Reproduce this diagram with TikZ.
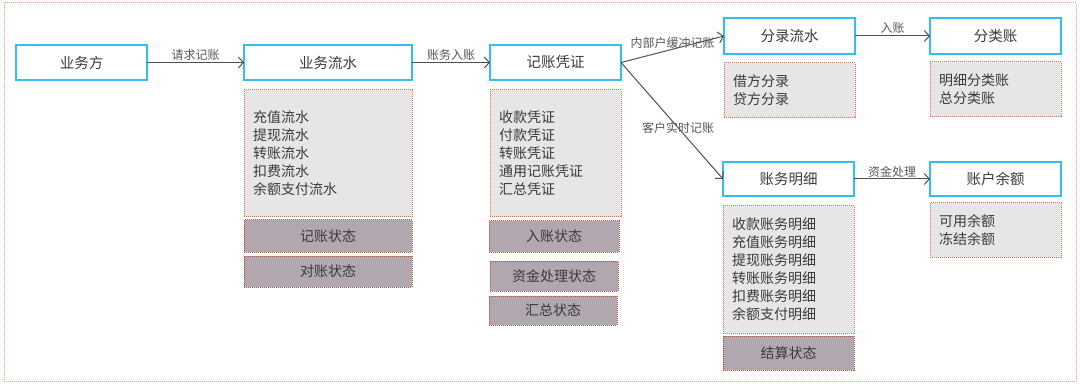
\documentclass[tikz,border=0pt]{standalone}
\usepackage{fontspec}
\setmainfont{Noto Sans CJK SC}
\usetikzlibrary{arrows.meta}
\definecolor{bluec}{HTML}{33BDF2}
\definecolor{grayf}{HTML}{E6E6E6}
\definecolor{dotc}{HTML}{D9704A}
\definecolor{statf}{HTML}{B1A7AF}
\definecolor{statd}{HTML}{B9502F}
\definecolor{outerc}{HTML}{E4997A}
\definecolor{txtc}{HTML}{3A3A3A}
\definecolor{arrc}{HTML}{505050}
\tikzset{
  every node/.style={outer sep=0pt, text=txtc},
  bluebox/.style={draw=bluec, line width=1.3pt, fill=white, anchor=north west,
    minimum height=35pt, inner sep=0pt, font=\fontsize{14.5}{18}\selectfont},
  listbox/.style={draw=dotc, line width=1pt, dash pattern=on 1pt off 1pt, fill=grayf,
    anchor=north west, align=left, inner xsep=9pt, inner ysep=0pt,
    font=\fontsize{14}{18}\selectfont},
  statbox/.style={draw=statd, line width=1pt, dash pattern=on 1pt off 1pt, fill=statf,
    anchor=north west, inner sep=0pt, font=\fontsize{14}{18}\selectfont},
  arr/.style={draw=arrc, line width=1pt, -{Straight Barb[length=5pt,width=11pt]}},
  lbl/.style={font=\fontsize{12}{14}\selectfont, text=txtc!85, inner sep=1pt},
}
\begin{document}
\begin{tikzpicture}[x=1pt,y=-1pt]
\useasboundingbox (0,0) rectangle (1080,385);
\draw[outerc, line width=1pt, dash pattern=on 1pt off 1pt] (4,3) rectangle (1076,381);

% column 1
\node[bluebox, minimum width=131pt] (ywf) at (16,45) {业务方};

% column 2
\node[bluebox, minimum width=168pt] (ywls) at (244,45) {业务流水};
\node[listbox, minimum width=168pt, minimum height=127pt, text width=150pt] (ywlist) at (244,90)
  {充值流水\\提现流水\\转账流水\\扣费流水\\余额支付流水};
\node[statbox, minimum width=168pt, minimum height=32pt] (jzzt) at (244,220) {记账状态};
\node[statbox, minimum width=168pt, minimum height=31pt] (dzzt) at (244,256) {对账状态};

% column 3
\node[bluebox, minimum width=131pt] (jzpz) at (490,45) {记账凭证};
\node[listbox, minimum width=131pt, minimum height=127pt, text width=113pt] (pzlist) at (490,90)
  {收款凭证\\付款凭证\\转账凭证\\通用记账凭证\\汇总凭证};
\node[statbox, minimum width=130pt, minimum height=31pt] (rzzt) at (489,221) {入账状态};
\node[statbox, minimum width=128pt, minimum height=30pt] (zjzt) at (490,261) {资金处理状态};
\node[statbox, minimum width=128pt, minimum height=29pt] (hzzt) at (489,296) {汇总状态};

% column 4
\node[bluebox, minimum width=131pt, minimum height=36pt] (flls) at (724,18) {分录流水};
\node[listbox, minimum width=131pt, minimum height=55pt, text width=113pt] (fllist) at (724,63)
  {借方分录\\贷方分录};
\node[bluebox, minimum width=131pt, minimum height=34pt] (zwmx) at (723,162) {账务明细};
\node[listbox, minimum width=131pt, minimum height=127pt, text width=113pt] (mxlist) at (723,206)
  {收款账务明细\\充值账务明细\\提现账务明细\\转账账务明细\\扣费账务明细\\余额支付明细};
\node[statbox, minimum width=131pt, minimum height=34pt] (jszt) at (723,336) {结算状态};

% column 5
\node[bluebox, minimum width=131pt, minimum height=36pt] (flz) at (930,18) {分类账};
\node[listbox, minimum width=131pt, minimum height=55pt, text width=113pt] (flzlist) at (930,62)
  {明细分类账\\总分类账};
\node[bluebox, minimum width=131pt, minimum height=34pt] (zhye) at (930,162) {账户余额};
\node[listbox, minimum width=131pt, minimum height=54pt, text width=113pt] (yelist) at (930,203)
  {可用余额\\冻结余额};

% connectors
\draw[arr] (ywf.east) -- node[lbl, above=1pt] {请求记账} (ywls.west);
\draw[arr] (ywls.east) -- node[lbl, above=1pt] {账务入账} (jzpz.west);
\draw[arr] (jzpz.east) -- node[lbl, above, pos=0.5] {内部户缓冲记账} (flls.west);
\draw[arr] (jzpz.east) -- node[lbl, pos=0.56] {客户实时记账} (zwmx.west);
\draw[arr] (flls.east) -- node[lbl, above=1pt] {入账} (flz.west);
\draw[arr] (zwmx.east) -- node[lbl, above=1pt] {资金处理} (zhye.west);
\end{tikzpicture}
\end{document}
